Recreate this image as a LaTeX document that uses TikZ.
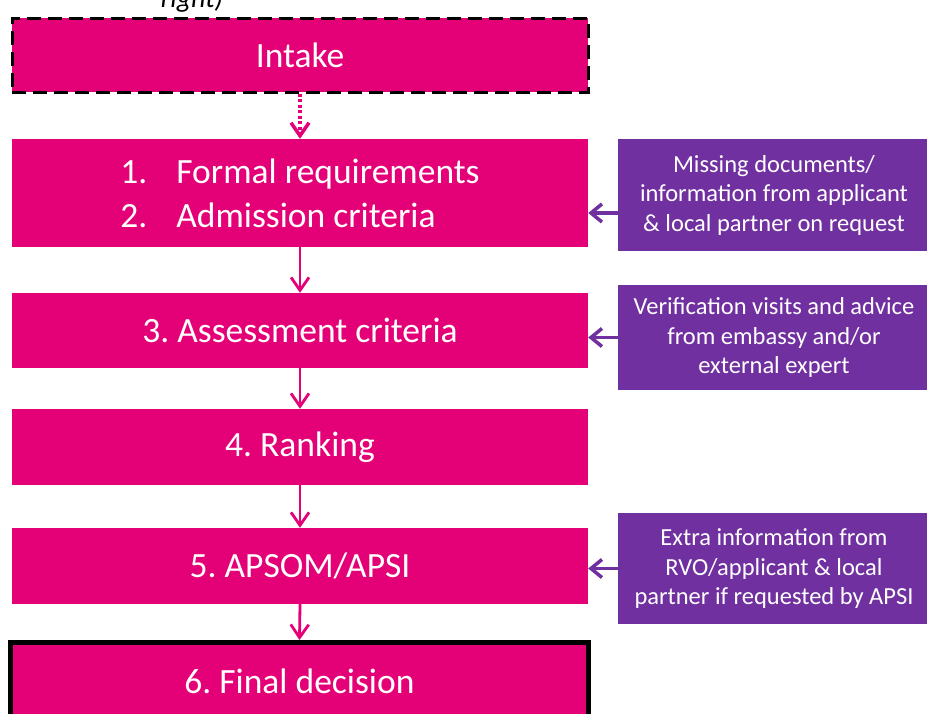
\documentclass[tikz,border=0pt]{standalone}
\usepackage{fontspec}
\setmainfont{Carlito}
\usetikzlibrary{arrows.meta}
\definecolor{mag}{RGB}{228,0,118}
\definecolor{pur}{RGB}{112,48,160}
\frenchspacing
\begin{document}
\begin{tikzpicture}[x=1pt,y=-1pt,
 mbox/.style={fill=mag, text=white, minimum width=576pt, inner sep=0pt, font=\fontsize{35.5}{44}\selectfont},
 pbox/.style={fill=pur, text=white, minimum width=312pt, inner sep=0pt, align=center, font=\fontsize{24.5}{29.5}\selectfont},
 marrow/.style={draw=mag, line width=2.8pt, -{Straight Barb[length=13pt,width=18pt]}},
 parrow/.style={draw=pur, line width=3.5pt, -{Straight Barb[length=11pt,width=18pt]}},
]
\useasboundingbox (0,0) rectangle (927,713);
\node[anchor=base, font=\itshape\fontsize{28}{30}\selectfont] (cut) at (192,7) {right)};
\node[mbox, minimum height=74pt, draw=black, line width=3pt, dash pattern=on 14pt off 7pt] (intake) at (300,55) {Intake};
\node[mbox, minimum height=108pt, align=left] (b1) at (300,193) {\makebox[56pt][l]{1.}Formal requirements\\\makebox[56pt][l]{2.}Admission criteria};
\node[mbox, minimum height=75pt] (b3) at (300,330.5) {3. Assessment criteria};
\node[mbox, minimum height=76pt] (b4) at (300,447) {4. Ranking};
\node[mbox, minimum height=76pt] (b5) at (300,566) {5. APSOM/APSI};
\node[mbox, minimum width=578pt, minimum height=77pt, draw=black, line width=5pt] (b6) at (299.5,681) {6. Final decision};
\node[pbox, minimum height=112pt] (p1) at (774,195) {Missing documents/\\information from applicant\\\& local partner on request};
\node[pbox, minimum height=105pt] (p2) at (774,337.5) {Verification visits and advice\\from embassy and/or\\external expert};
\node[pbox, minimum height=111pt] (p3) at (774,568.5) {Extra information from\\RVO/applicant \& local\\partner if requested by APSI};
\draw[marrow, line width=3.5pt, dash pattern=on 3pt off 2.5pt] (intake.south) -- (b1.north);
\draw[marrow] (b1.south) -- (b3.north);
\draw[marrow] (b3.south) -- (b4.north);
\draw[marrow] (b4.south) -- (b5.north);
\draw[marrow] (b5.south) -- (b6.north);
\coordinate (a1) at ([yshift=-18pt]p1.west);
\draw[parrow] (a1) -- (a1 -| b1.east);
\draw[parrow] (p2.west) -- (p2.west -| b3.east);
\draw[parrow] (p3.west) -- (p3.west -| b5.east);
\end{tikzpicture}
\end{document}
